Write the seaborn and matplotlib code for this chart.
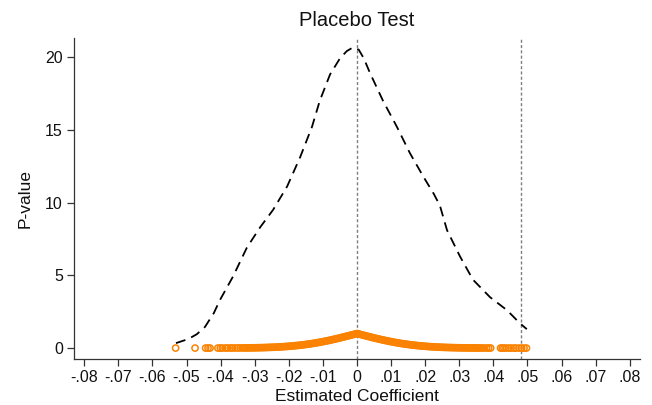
import matplotlib
matplotlib.use("Agg")
import matplotlib.pyplot as plt
import seaborn as sns
import pandas as pd

# ---- density of placebo coefficients (dashed curve) ----
dens_x = [-0.0531, -0.0495, -0.0470, -0.0446, -0.0420, -0.0402, -0.0364, -0.0323, -0.0284,
          -0.0246, -0.0205, -0.0167, -0.0132, -0.0109, -0.0079, -0.0050, -0.0030, -0.0012,
          0.0005, 0.0020, 0.0038, 0.0076, 0.0117, 0.0155, 0.0194, 0.0225, 0.0243, 0.0264,
          0.0302, 0.0340, 0.0390, 0.0440, 0.0478, 0.0498]
dens_y = [0.34, 0.62, 0.95, 1.45, 2.40, 3.30, 4.90, 6.90, 8.30,
          9.50, 11.10, 13.10, 15.20, 17.00, 18.80, 19.90, 20.40, 20.65,
          20.50, 19.90, 18.90, 17.00, 15.20, 13.40, 11.80, 10.60, 9.80, 8.10,
          6.30, 4.70, 3.50, 2.60, 1.70, 1.30]

# ---- placebo estimates and their p-values (orange circles) ----
coef = [-0.0532, -0.0475, -0.0444, -0.0437, -0.0431, -0.0408, -0.0401, -0.0395, -0.0386, -0.0380,
        -0.0372, -0.0366, -0.0358, -0.0350, -0.0343, -0.0336, -0.0330, -0.0325,
        -0.0320, -0.0315, -0.0310, -0.0305, -0.0300, -0.0295, -0.0290, -0.0285, -0.0280, -0.0275,
        -0.0270, -0.0265, -0.0260, -0.0255, -0.0250, -0.0245, -0.0240, -0.0235, -0.0230, -0.0225,
        -0.0220, -0.0215, -0.0210, -0.0205, -0.0200, -0.0195, -0.0190, -0.0185, -0.0180, -0.0175,
        -0.0170, -0.0165, -0.0160, -0.0155, -0.0150, -0.0145, -0.0140, -0.0135, -0.0130, -0.0125,
        -0.0120, -0.0115, -0.0110, -0.0105, -0.0100, -0.0095, -0.0090, -0.0085, -0.0080, -0.0075,
        -0.0070, -0.0065, -0.0060, -0.0055, -0.0050, -0.0045, -0.0040, -0.0035, -0.0030, -0.0025,
        -0.0020, -0.0015, -0.0010, -0.0005, 0.0000, 0.0005, 0.0010, 0.0015, 0.0020, 0.0025,
        0.0030, 0.0035, 0.0040, 0.0045, 0.0050, 0.0055, 0.0060, 0.0065, 0.0070, 0.0075,
        0.0080, 0.0085, 0.0090, 0.0095, 0.0100, 0.0105, 0.0110, 0.0115, 0.0120, 0.0125,
        0.0130, 0.0135, 0.0140, 0.0145, 0.0150, 0.0155, 0.0160, 0.0165, 0.0170, 0.0175,
        0.0180, 0.0185, 0.0190, 0.0195, 0.0200, 0.0205, 0.0210, 0.0215, 0.0220, 0.0225,
        0.0230, 0.0235, 0.0240, 0.0245, 0.0250, 0.0255, 0.0260, 0.0265, 0.0270, 0.0275,
        0.0280, 0.0285, 0.0290, 0.0295, 0.0300, 0.0305, 0.0310, 0.0315, 0.0320, 0.0325,
        0.0330, 0.0335, 0.0340, 0.0345, 0.0350, 0.0355, 0.0360,
        0.0366, 0.0372, 0.0380, 0.0386, 0.0392,
        0.0421, 0.0426, 0.0431, 0.0437, 0.0445, 0.0452, 0.0460, 0.0466, 0.0475, 0.0483,
        0.0490, 0.0497]
pval = [0.000, 0.000, 0.001, 0.001, 0.001, 0.002, 0.002, 0.003, 0.003, 0.004,
        0.004, 0.005, 0.006, 0.007, 0.008, 0.010, 0.011, 0.012,
        0.014, 0.015, 0.017, 0.019, 0.021, 0.023, 0.026, 0.028, 0.031, 0.034,
        0.038, 0.042, 0.046, 0.050, 0.054, 0.059, 0.065, 0.071, 0.077, 0.083,
        0.091, 0.098, 0.106, 0.115, 0.124, 0.134, 0.144, 0.155, 0.166, 0.178,
        0.191, 0.204, 0.218, 0.233, 0.249, 0.265, 0.281, 0.299, 0.317, 0.336,
        0.356, 0.376, 0.397, 0.419, 0.442, 0.465, 0.489, 0.513, 0.538, 0.564,
        0.590, 0.617, 0.644, 0.672, 0.700, 0.729, 0.758, 0.788, 0.817, 0.848,
        0.878, 0.908, 0.939, 0.969, 1.000, 0.969, 0.939, 0.908, 0.878, 0.848,
        0.817, 0.788, 0.758, 0.729, 0.700, 0.672, 0.644, 0.617, 0.590, 0.564,
        0.538, 0.513, 0.489, 0.465, 0.442, 0.419, 0.397, 0.376, 0.356, 0.336,
        0.317, 0.299, 0.281, 0.265, 0.249, 0.233, 0.218, 0.204, 0.191, 0.178,
        0.166, 0.155, 0.144, 0.134, 0.124, 0.115, 0.106, 0.098, 0.091, 0.083,
        0.077, 0.071, 0.065, 0.059, 0.054, 0.050, 0.046, 0.042, 0.038, 0.034,
        0.031, 0.028, 0.026, 0.023, 0.021, 0.019, 0.017, 0.015, 0.014, 0.012,
        0.011, 0.010, 0.009, 0.008, 0.007, 0.006, 0.006,
        0.005, 0.004, 0.004, 0.003, 0.003,
        0.001, 0.001, 0.001, 0.001, 0.001, 0.000, 0.000, 0.000, 0.000, 0.000,
        0.000, 0.000]

true_coef = 0.048   # the actual estimate, marked with the right-hand reference line

x_ticks = [-0.08, -0.07, -0.06, -0.05, -0.04, -0.03, -0.02, -0.01, 0,
           0.01, 0.02, 0.03, 0.04, 0.05, 0.06, 0.07, 0.08]
x_labels = ['-.08', '-.07', '-.06', '-.05', '-.04', '-.03', '-.02', '-.01', '0',
            '.01', '.02', '.03', '.04', '.05', '.06', '.07', '.08']
y_ticks = [0, 5, 10, 15, 20]

# ---- style ----
sns.set_style("ticks")
plt.rcParams['font.family'] = ['Liberation Sans', 'DejaVu Sans']

dens = pd.DataFrame({'x': dens_x, 'y': dens_y})
pts = pd.DataFrame({'coef': coef, 'p': pval})

fig = plt.figure(figsize=(6.52, 4.05), dpi=100)
ax = fig.add_axes([74 / 652, 1 - 359 / 405, (640 - 74) / 652, (359 - 38) / 405])

# reference lines at 0 and at the true estimate
for xv in [0, true_coef]:
    ax.axvline(xv, color='#7f7f7f', lw=1.0, linestyle=(0, (2.2, 1.6)), zorder=1)

sns.lineplot(data=dens, x='x', y='y', ax=ax, color='black', lw=1.3,
             linestyle=(0, (5.5, 3.5)), sort=True, zorder=3)

sns.scatterplot(data=pts, x='coef', y='p', ax=ax, marker='o', s=20,
                facecolors='none', edgecolor='#FA8200', linewidth=1.1, zorder=2)

ax.set_xlim(-0.083, 0.083)
ax.set_ylim(-0.75, 21.3)
ax.set_xticks(x_ticks)
ax.set_xticklabels(x_labels)
ax.set_yticks(y_ticks)

ax.tick_params(axis='both', labelsize=11.5, length=5, width=0.9, color='#333333',
               labelcolor='#111111', pad=3)
for s in ['left', 'bottom']:
    ax.spines[s].set_color('#333333')
    ax.spines[s].set_linewidth(0.9)
sns.despine(ax=ax)

ax.set_xlabel('Estimated Coefficient', fontsize=12.5, color='#111111', labelpad=3)
ax.set_ylabel('P-value', fontsize=12.5, color='#111111', labelpad=9)
ax.set_title('Placebo Test', fontsize=14.5, color='#111111', pad=9)

fig.savefig('out.png', dpi=100)
